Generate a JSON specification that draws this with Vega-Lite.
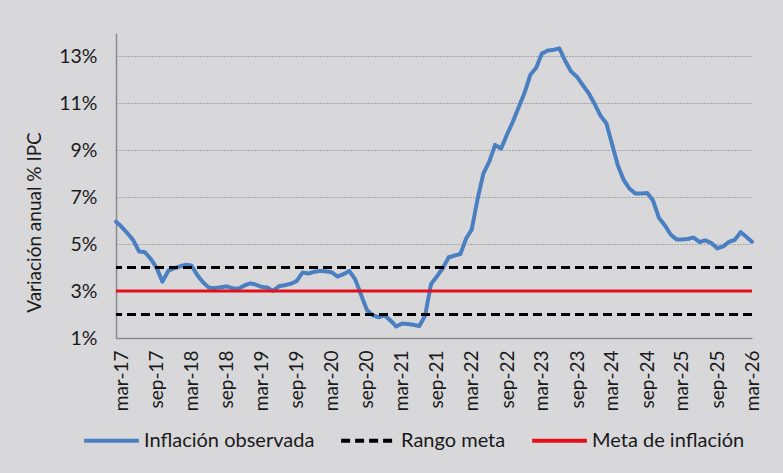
{
  "$schema": "https://vega.github.io/schema/vega-lite/v6.json",
  "width": 636,
  "height": 305,
  "autosize": {"type": "none"},
  "padding": {"left": 116, "top": 33, "right": 31, "bottom": 135},
  "background": "#d8d8da",
  "config": {
    "view": {"stroke": null},
    "font": "Lato",
    "axis": {"labelColor": "#1a1a1a", "titleColor": "#1a1a1a", "domainColor": "#8a8a8a", "domainWidth": 1.5, "ticks": false}
  },
  "datasets": {
    "ipc": [
      {"fecha": "2017-02-01", "v": 5.96}, {"fecha": "2017-03-01", "v": 5.75}, {"fecha": "2017-04-01", "v": 5.47},
      {"fecha": "2017-05-01", "v": 5.18}, {"fecha": "2017-06-01", "v": 4.69}, {"fecha": "2017-07-01", "v": 4.66},
      {"fecha": "2017-08-01", "v": 4.37}, {"fecha": "2017-09-01", "v": 3.99}, {"fecha": "2017-10-01", "v": 3.40},
      {"fecha": "2017-11-01", "v": 3.87}, {"fecha": "2017-12-01", "v": 3.97}, {"fecha": "2018-01-01", "v": 4.05},
      {"fecha": "2018-02-01", "v": 4.12}, {"fecha": "2018-03-01", "v": 4.09}, {"fecha": "2018-04-01", "v": 3.68},
      {"fecha": "2018-05-01", "v": 3.37}, {"fecha": "2018-06-01", "v": 3.14}, {"fecha": "2018-07-01", "v": 3.13},
      {"fecha": "2018-08-01", "v": 3.16}, {"fecha": "2018-09-01", "v": 3.20}, {"fecha": "2018-10-01", "v": 3.12},
      {"fecha": "2018-11-01", "v": 3.10}, {"fecha": "2018-12-01", "v": 3.23}, {"fecha": "2019-01-01", "v": 3.33},
      {"fecha": "2019-02-01", "v": 3.27}, {"fecha": "2019-03-01", "v": 3.18}, {"fecha": "2019-04-01", "v": 3.15},
      {"fecha": "2019-05-01", "v": 3.01}, {"fecha": "2019-06-01", "v": 3.21}, {"fecha": "2019-07-01", "v": 3.25},
      {"fecha": "2019-08-01", "v": 3.31}, {"fecha": "2019-09-01", "v": 3.43}, {"fecha": "2019-10-01", "v": 3.79},
      {"fecha": "2019-11-01", "v": 3.75}, {"fecha": "2019-12-01", "v": 3.82}, {"fecha": "2020-01-01", "v": 3.86},
      {"fecha": "2020-02-01", "v": 3.84}, {"fecha": "2020-03-01", "v": 3.80}, {"fecha": "2020-04-01", "v": 3.62},
      {"fecha": "2020-05-01", "v": 3.72}, {"fecha": "2020-06-01", "v": 3.86}, {"fecha": "2020-07-01", "v": 3.51},
      {"fecha": "2020-08-01", "v": 2.85}, {"fecha": "2020-09-01", "v": 2.19}, {"fecha": "2020-10-01", "v": 1.97},
      {"fecha": "2020-11-01", "v": 1.88}, {"fecha": "2020-12-01", "v": 1.97}, {"fecha": "2021-01-01", "v": 1.75},
      {"fecha": "2021-02-01", "v": 1.49}, {"fecha": "2021-03-01", "v": 1.61}, {"fecha": "2021-04-01", "v": 1.60},
      {"fecha": "2021-05-01", "v": 1.56}, {"fecha": "2021-06-01", "v": 1.51}, {"fecha": "2021-07-01", "v": 1.95},
      {"fecha": "2021-08-01", "v": 3.30}, {"fecha": "2021-09-01", "v": 3.63}, {"fecha": "2021-10-01", "v": 3.97},
      {"fecha": "2021-11-01", "v": 4.44}, {"fecha": "2021-12-01", "v": 4.51}, {"fecha": "2022-01-01", "v": 4.58},
      {"fecha": "2022-02-01", "v": 5.26}, {"fecha": "2022-03-01", "v": 5.62}, {"fecha": "2022-04-01", "v": 6.94},
      {"fecha": "2022-05-01", "v": 8.01}, {"fecha": "2022-06-01", "v": 8.53}, {"fecha": "2022-07-01", "v": 9.23},
      {"fecha": "2022-08-01", "v": 9.07}, {"fecha": "2022-09-01", "v": 9.67}, {"fecha": "2022-10-01", "v": 10.21},
      {"fecha": "2022-11-01", "v": 10.84}, {"fecha": "2022-12-01", "v": 11.44}, {"fecha": "2023-01-01", "v": 12.22},
      {"fecha": "2023-02-01", "v": 12.53}, {"fecha": "2023-03-01", "v": 13.12}, {"fecha": "2023-04-01", "v": 13.25},
      {"fecha": "2023-05-01", "v": 13.28}, {"fecha": "2023-06-01", "v": 13.34}, {"fecha": "2023-07-01", "v": 12.82},
      {"fecha": "2023-08-01", "v": 12.36}, {"fecha": "2023-09-01", "v": 12.13}, {"fecha": "2023-10-01", "v": 11.78},
      {"fecha": "2023-11-01", "v": 11.43}, {"fecha": "2023-12-01", "v": 10.99}, {"fecha": "2024-01-01", "v": 10.48},
      {"fecha": "2024-02-01", "v": 10.15}, {"fecha": "2024-03-01", "v": 9.28}, {"fecha": "2024-04-01", "v": 8.35},
      {"fecha": "2024-05-01", "v": 7.74}, {"fecha": "2024-06-01", "v": 7.36}, {"fecha": "2024-07-01", "v": 7.16},
      {"fecha": "2024-08-01", "v": 7.16}, {"fecha": "2024-09-01", "v": 7.18}, {"fecha": "2024-10-01", "v": 6.86},
      {"fecha": "2024-11-01", "v": 6.12}, {"fecha": "2024-12-01", "v": 5.81}, {"fecha": "2025-01-01", "v": 5.41},
      {"fecha": "2025-02-01", "v": 5.20}, {"fecha": "2025-03-01", "v": 5.20}, {"fecha": "2025-04-01", "v": 5.22},
      {"fecha": "2025-05-01", "v": 5.28}, {"fecha": "2025-06-01", "v": 5.09}, {"fecha": "2025-07-01", "v": 5.16},
      {"fecha": "2025-08-01", "v": 5.05}, {"fecha": "2025-09-01", "v": 4.82}, {"fecha": "2025-10-01", "v": 4.90},
      {"fecha": "2025-11-01", "v": 5.10}, {"fecha": "2025-12-01", "v": 5.18}, {"fecha": "2026-01-01", "v": 5.51},
      {"fecha": "2026-02-01", "v": 5.30}, {"fecha": "2026-03-01", "v": 5.10}
    ],
    "refs": [
      {"serie": "Rango meta", "v": 4},
      {"serie": "Rango meta", "v": 2},
      {"serie": "Meta de inflación", "v": 3}
    ]
  },
  "layer": [
    {
      "data": {"name": "ipc"},
      "mark": {"type": "line", "strokeWidth": 4, "strokeJoin": "round", "strokeCap": "round"},
      "encoding": {
        "x": {
          "field": "fecha", "type": "temporal",
          "scale": {"type": "utc", "domain": [{"year": 2017, "month": 2, "date": 1, "utc": true}, {"year": 2026, "month": 3, "date": 1, "utc": true}]},
          "axis": {
            "title": null,
            "grid": false,
            "values": [
              {"year": 2017, "month": 3, "date": 1, "utc": true}, {"year": 2017, "month": 9, "date": 1, "utc": true},
              {"year": 2018, "month": 3, "date": 1, "utc": true}, {"year": 2018, "month": 9, "date": 1, "utc": true},
              {"year": 2019, "month": 3, "date": 1, "utc": true}, {"year": 2019, "month": 9, "date": 1, "utc": true},
              {"year": 2020, "month": 3, "date": 1, "utc": true}, {"year": 2020, "month": 9, "date": 1, "utc": true},
              {"year": 2021, "month": 3, "date": 1, "utc": true}, {"year": 2021, "month": 9, "date": 1, "utc": true},
              {"year": 2022, "month": 3, "date": 1, "utc": true}, {"year": 2022, "month": 9, "date": 1, "utc": true},
              {"year": 2023, "month": 3, "date": 1, "utc": true}, {"year": 2023, "month": 9, "date": 1, "utc": true},
              {"year": 2024, "month": 3, "date": 1, "utc": true}, {"year": 2024, "month": 9, "date": 1, "utc": true},
              {"year": 2025, "month": 3, "date": 1, "utc": true}, {"year": 2025, "month": 9, "date": 1, "utc": true},
              {"year": 2026, "month": 3, "date": 1, "utc": true}
            ],
            "labelExpr": "lower(utcFormat(datum.value, '%b-%y'))",
            "labelAngle": -90,
            "labelFontSize": 19,
            "labelPadding": 12,
            "labelOverlap": false,
            "labelFlush": false
          }
        },
        "y": {
          "field": "v", "type": "quantitative",
          "scale": {"domain": [1, 14], "nice": false, "zero": false},
          "axis": {
            "title": "Variación anual % IPC",
            "titleFontSize": 19,
            "titleFontWeight": "normal",
            "titlePadding": 14,
            "titleY": 189,
            "values": [1, 3, 5, 7, 9, 11, 13],
            "labelExpr": "datum.value + '%'",
            "labelFontSize": 19.5,
            "labelPadding": 19,
            "grid": true,
            "gridColor": "#777777",
            "gridDash": [1, 2],
            "gridWidth": 1
          }
        },
        "color": {
          "datum": "Inflación observada",
          "title": null,
          "scale": {"domain": ["Inflación observada", "Rango meta", "Meta de inflación"], "range": ["#4a7fc1", "#000000", "#e3101a"]},
          "legend": {
            "title": null,
            "orient": "none",
            "direction": "horizontal",
            "legendX": -34,
            "legendY": 378,
            "symbolType": "stroke",
            "symbolSize": 3000,
            "symbolStrokeWidth": 4,
            "labelFontSize": 20,
            "labelLimit": 400,
            "labelColor": "#1a1a1a",
            "labelOffset": 3,
            "columnPadding": 18
          }
        },
        "strokeDash": {
          "datum": "Inflación observada",
          "title": null,
          "scale": {"domain": ["Inflación observada", "Rango meta", "Meta de inflación"], "range": [[1, 0], [9, 5], [1, 0]]},
          "legend": null
        }
      }
    },
    {
      "data": {"name": "refs"},
      "mark": {"type": "rule", "strokeWidth": 3},
      "encoding": {
        "y": {"field": "v", "type": "quantitative"},
        "color": {"field": "serie", "type": "nominal", "title": null},
        "strokeDash": {"field": "serie", "type": "nominal", "title": null}
      }
    }
  ]
}
